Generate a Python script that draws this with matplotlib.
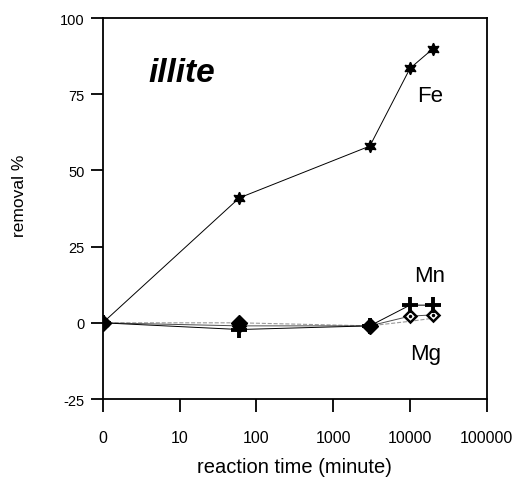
import numpy as np
import matplotlib
matplotlib.use("Agg")
import matplotlib.pyplot as plt

plt.rcParams['font.family'] = ['Liberation Sans', 'DejaVu Sans']
plt.rcParams['axes.unicode_minus'] = False

# reaction time in minutes, 0 = start
time_min = [0, 60, 3000, 10000, 20000]
fe = [0, 41, 58, 83.5, 90]
mn = [0, -2.2, -1, 5.8, 5.8]
mg = [0, -1, -1, 2.2, 2.6]
mg_b = [0, 0, -1, 0.5, 1.5]

xticks = [0, 10, 100, 1000, 10000, 100000]
xticklabels = ['0', '10', '100', '1000', '10000', '100000']
yticks = [-25, 0, 25, 50, 75, 100]

fig = plt.figure(figsize=(5.19, 4.89), dpi=100)
ax = fig.add_axes([0.198, 0.182, 0.740, 0.779])

# 0..10 gets the same width as one decade
ax.set_xscale('symlog', linthresh=10, linscale=0.9)
ax.set_xlim(0, 100000)
ax.set_ylim(-25, 100)

ax.plot(time_min, mg_b, color='0.6', lw=0.8, ls='--', zorder=2)
ax.plot(time_min[:3], mg_b[:3], ls='none', marker='D', ms=8,
        mfc='black', mec='black', zorder=6)
ax.plot(time_min, mg, color='0.3', lw=0.7, marker='D', ms=6,
        mfc='white', mec='black', mew=1.8, zorder=4)
ax.plot(time_min[3:], mg[3:], ls='none', marker='.', ms=3, color='black', zorder=5)
ax.plot(time_min, mn, color='black', lw=0.7, marker='+', ms=11, mew=2.8, zorder=4)
ax.plot(time_min, fe, color='black', lw=0.7, marker=(6, 1, 0), ms=9, zorder=4)

ax.set_xticks(xticks)
ax.set_xticklabels(xticklabels)
ax.xaxis.set_minor_locator(matplotlib.ticker.NullLocator())
ax.set_yticks(yticks)
ax.tick_params(axis='both', direction='out', length=9, width=1.3)
ax.tick_params(axis='x', pad=13, labelsize=11.5)
ax.tick_params(axis='y', pad=4, labelsize=10.5)
for s in ax.spines.values():
    s.set_linewidth(1.3)

ax.set_xlabel('reaction time (minute)', fontsize=14.5, labelpad=9)
ax.set_ylabel('removal %', fontsize=12.5)
ax.yaxis.set_label_coords(-0.198, 0.535)

ax.text(0.12, 0.835, 'illite', transform=ax.transAxes, fontsize=24,
        fontweight='bold', fontstyle='italic')
ax.text(0.818, 0.782, 'Fe', transform=ax.transAxes, fontsize=16)
ax.text(0.81, 0.31, 'Mn', transform=ax.transAxes, fontsize=16)
ax.text(0.80, 0.105, 'Mg', transform=ax.transAxes, fontsize=16)

fig.savefig('out.png', dpi=100)
